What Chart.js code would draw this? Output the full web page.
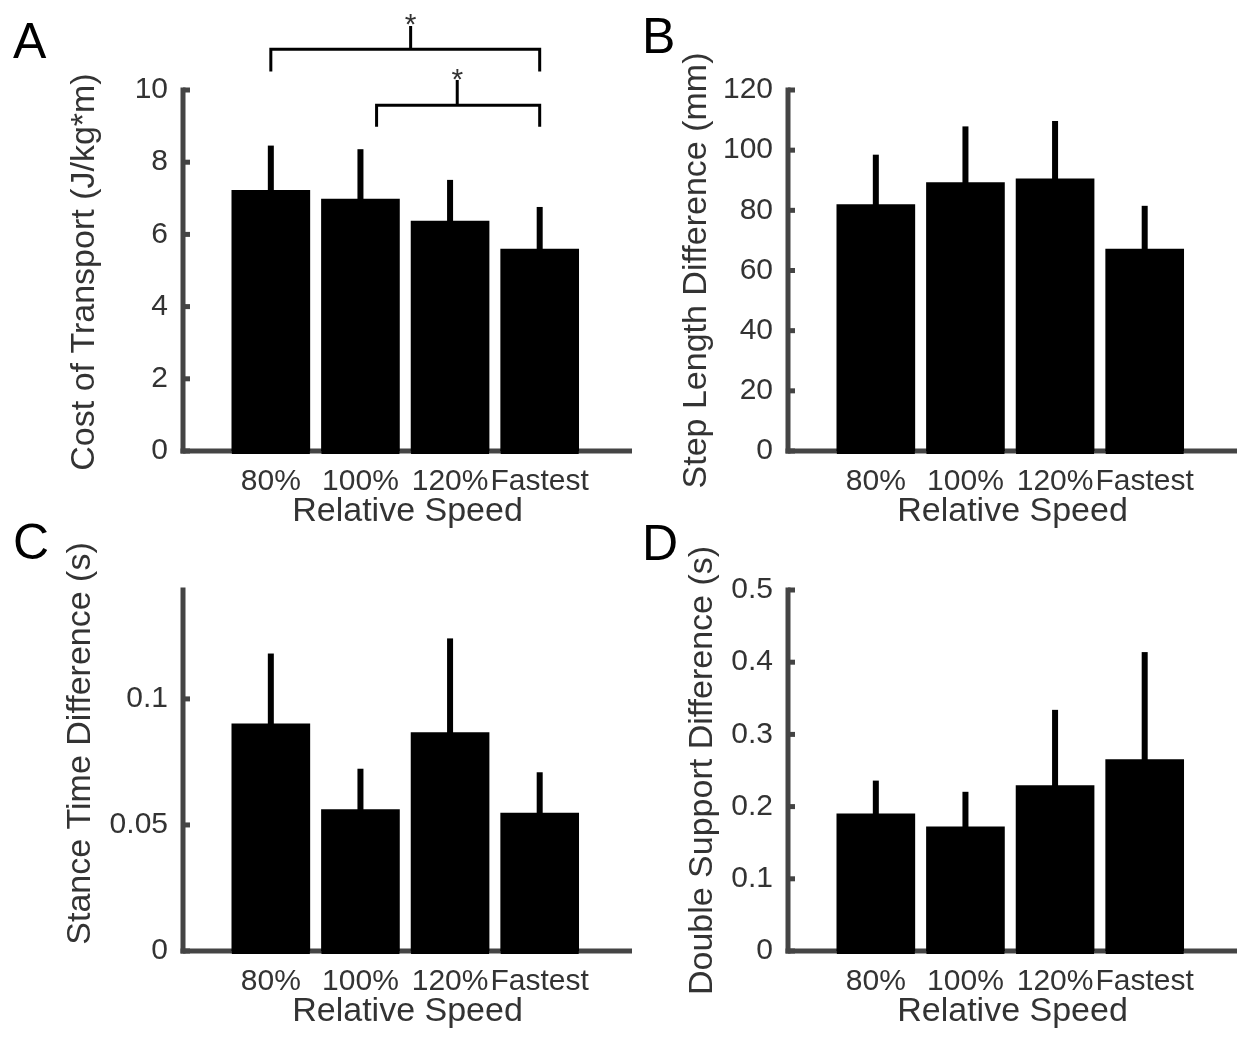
<!DOCTYPE html>
<html><head><meta charset="utf-8">
<script src="https://cdn.jsdelivr.net/npm/chart.js@4.4.0/dist/chart.umd.min.js"></script>
<style>
html,body{margin:0;padding:0;background:#fff;width:1243px;height:1042px;overflow:hidden;}
.panel{position:absolute;width:638px;height:540px;}
canvas{display:block;}
</style></head><body>
<div class="panel" style="left:0px;top:0px"><canvas id="cA" width="638" height="540"></canvas></div>
<div class="panel" style="left:605px;top:0px"><canvas id="cB" width="638" height="540"></canvas></div>
<div class="panel" style="left:0px;top:500px"><canvas id="cC" width="638" height="540"></canvas></div>
<div class="panel" style="left:605px;top:500px"><canvas id="cD" width="638" height="540"></canvas></div>
<script>
// ---------- data ----------
const categories = ['80%', '100%', '120%', 'Fastest'];
const xPositions = [1, 2, 3, 4];

const costMean = [7.22, 6.98, 6.37, 5.59];
const costErr  = [1.24, 1.38, 1.14, 1.17];
const stepMean = [81.9, 89.2, 90.5, 67.1];
const stepErr  = [16.6, 18.7, 19.2, 14.4];
const stanceMean = [0.0901, 0.0561, 0.0866, 0.0547];
const stanceErr  = [0.0279, 0.0162, 0.0374, 0.0162];
const dsMean = [0.190, 0.172, 0.229, 0.265];
const dsErr  = [0.046, 0.0485, 0.105, 0.149];

const costTicks   = [0, 2, 4, 6, 8, 10];
const stepTicks   = [0, 20, 40, 60, 80, 100, 120];
const stanceTicks = [0, 0.05, 0.1];
const dsTicks     = [0, 0.1, 0.2, 0.3, 0.4, 0.5];

// significance brackets (panel A), in data units
const sigLeft     = [1, 2.18];
const sigRight    = [4, 4];
const sigBarY     = [11.13, 9.58];
const sigEndY     = [10.51, 8.98];
const sigStemX    = [2.56, 3.08];
const sigStemTopY = [11.77, 10.28];
const sigStarY    = [11.56, 10.04];
const sigLabel    = ['*', '*'];

// ---------- style ----------
const FONT = "'Liberation Sans', Arial, Helvetica, sans-serif";
const AXIS_COLOR = '#444444';
const TEXT_COLOR = '#333333';
Chart.defaults.font.family = FONT;

const decorPlugin = {
  id: 'decor',
  beforeDatasetsDraw(chart) {
    const o = chart.options.plugins.decor;
    const ctx = chart.ctx, ca = chart.chartArea;
    const ys = chart.scales.y;
    const x0 = ca.left, y0 = ca.bottom;
    const yTop = ys.getPixelForValue(ys.max);
    ctx.save();
    ctx.fillStyle = AXIS_COLOR;
    ctx.fillRect(x0 - 2.5, yTop - 2.5, 5, y0 - yTop + 5);
    ctx.fillRect(x0 - 2.5, y0 - 2.5, ca.right - x0 + 2.5, 5);
    o.yTicks.forEach(v => {
      const py = ys.getPixelForValue(v);
      ctx.fillRect(x0, py - 2.5, 7, 5);
    });
    ctx.restore();
  },
  afterDatasetsDraw(chart) {
    const o = chart.options.plugins.decor;
    const ctx = chart.ctx;
    const xs = chart.scales.x, ys = chart.scales.y;
    ctx.save();
    ctx.fillStyle = '#000';
    // bars sit over the x-axis line
    chart.getDatasetMeta(0).data.forEach(el => {
      ctx.fillRect(el.x - el.width / 2, el.base - 1, el.width, 4);
    });
    o.mean.forEach((m, i) => {
      const px = xs.getPixelForValue(xPositions[i]);
      const pm = ys.getPixelForValue(m);
      const pe = ys.getPixelForValue(m + o.err[i]);
      ctx.fillRect(px - 3, pe, 6, pm - pe + 1);
    });
    ctx.restore();
  },
  afterDraw(chart) {
    const o = chart.options.plugins.decor;
    const ctx = chart.ctx;
    const xs = chart.scales.x, ys = chart.scales.y;
    ctx.save();
    if (o.sig) {
      ctx.strokeStyle = '#000';
      ctx.lineWidth = 3;
      for (let k = 0; k < sigLeft.length; k++) {
        const xl = xs.getPixelForValue(sigLeft[k]);
        const xr = xs.getPixelForValue(sigRight[k]);
        const yb = ys.getPixelForValue(sigBarY[k]);
        const ye = ys.getPixelForValue(sigEndY[k]);
        const xm = xs.getPixelForValue(sigStemX[k]);
        const yt = ys.getPixelForValue(sigStemTopY[k]);
        ctx.beginPath();
        ctx.moveTo(xl, ye); ctx.lineTo(xl, yb); ctx.lineTo(xr, yb); ctx.lineTo(xr, ye);
        ctx.moveTo(xm, yb); ctx.lineTo(xm, yt);
        ctx.stroke();
        ctx.fillStyle = TEXT_COLOR;
        ctx.font = '30px ' + FONT;
        ctx.textAlign = 'center';
        ctx.textBaseline = 'alphabetic';
        ctx.fillText(sigLabel[k], xm, ys.getPixelForValue(sigStarY[k]));
      }
    }
    ctx.fillStyle = '#000';
    ctx.font = '50px ' + FONT;
    ctx.textAlign = 'left';
    ctx.textBaseline = 'alphabetic';
    ctx.fillText(o.letter, o.letterX, o.letterY);
    ctx.translate(o.yTitleX, o.yTitleY);
    ctx.rotate(-Math.PI / 2);
    ctx.fillStyle = TEXT_COLOR;
    ctx.font = '34px ' + FONT;
    ctx.textAlign = 'center';
    ctx.textBaseline = 'middle';
    ctx.fillText(o.yTitle, 0, 0);
    ctx.restore();
  }
};

function makePanel(id, mean, err, yMax, yTicks, deco) {
  const data = xPositions.map((x, i) => ({x: x, y: mean[i]}));
  return new Chart(document.getElementById(id), {
    type: 'bar',
    data: {
      datasets: [{
        data: data,
        backgroundColor: '#000000',
        borderWidth: 0,
        barThickness: 78
      }]
    },
    plugins: [decorPlugin],
    options: {
      responsive: false,
      animation: false,
      devicePixelRatio: 1,
      layout: {padding: {top: 90, left: 0, right: 6, bottom: 0}},
      plugins: {
        legend: {display: false},
        tooltip: {enabled: false},
        decor: Object.assign({mean: mean, err: err, yTicks: yTicks}, deco)
      },
      scales: {
        x: {
          type: 'linear',
          offset: false,
          min: 0.02, max: 5.03,
          grid: {display: false, drawTicks: false, offset: false},
          border: {display: false},
          afterBuildTicks: s => { s.ticks = xPositions.map(v => ({value: v})); },
          afterFit: s => { s.height = 89; },
          ticks: {
            autoSkip: false, maxRotation: 0, minRotation: 0,
            padding: 13, color: TEXT_COLOR, font: {size: 30},
            callback: v => categories[xPositions.indexOf(v)]
          },
          title: {
            display: true, text: 'Relative Speed', color: TEXT_COLOR,
            font: {size: 34}, padding: {top: 0, bottom: 8}
          }
        },
        y: {
          type: 'linear',
          min: 0, max: yMax,
          grid: {display: false, drawTicks: false},
          border: {display: false},
          afterBuildTicks: s => { s.ticks = yTicks.map(v => ({value: v})); },
          afterFit: s => { s.width = 183; },
          ticks: {
            padding: 15, color: TEXT_COLOR, font: {size: 30},
            callback: v => String(v)
          }
        }
      }
    }
  });
}

makePanel('cA', costMean, costErr, 10, costTicks,
  {letter: 'A', letterX: 13, letterY: 58, yTitle: 'Cost of Transport (J/kg*m)', yTitleX: 84.5, yTitleY: 272, sig: true});
makePanel('cB', stepMean, stepErr, 120, stepTicks,
  {letter: 'B', letterX: 37, letterY: 53, yTitle: 'Step Length Difference (mm)', yTitleX: 92, yTitleY: 270.5, sig: false});
makePanel('cC', stanceMean, stanceErr, 0.1432, stanceTicks,
  {letter: 'C', letterX: 13, letterY: 59, yTitle: 'Stance Time Difference (s)', yTitleX: 81, yTitleY: 243.5, sig: false});
makePanel('cD', dsMean, dsErr, 0.5, dsTicks,
  {letter: 'D', letterX: 37, letterY: 60, yTitle: 'Double Support Difference (s)', yTitleX: 98, yTitleY: 270.5, sig: false});
</script>
</body></html>
